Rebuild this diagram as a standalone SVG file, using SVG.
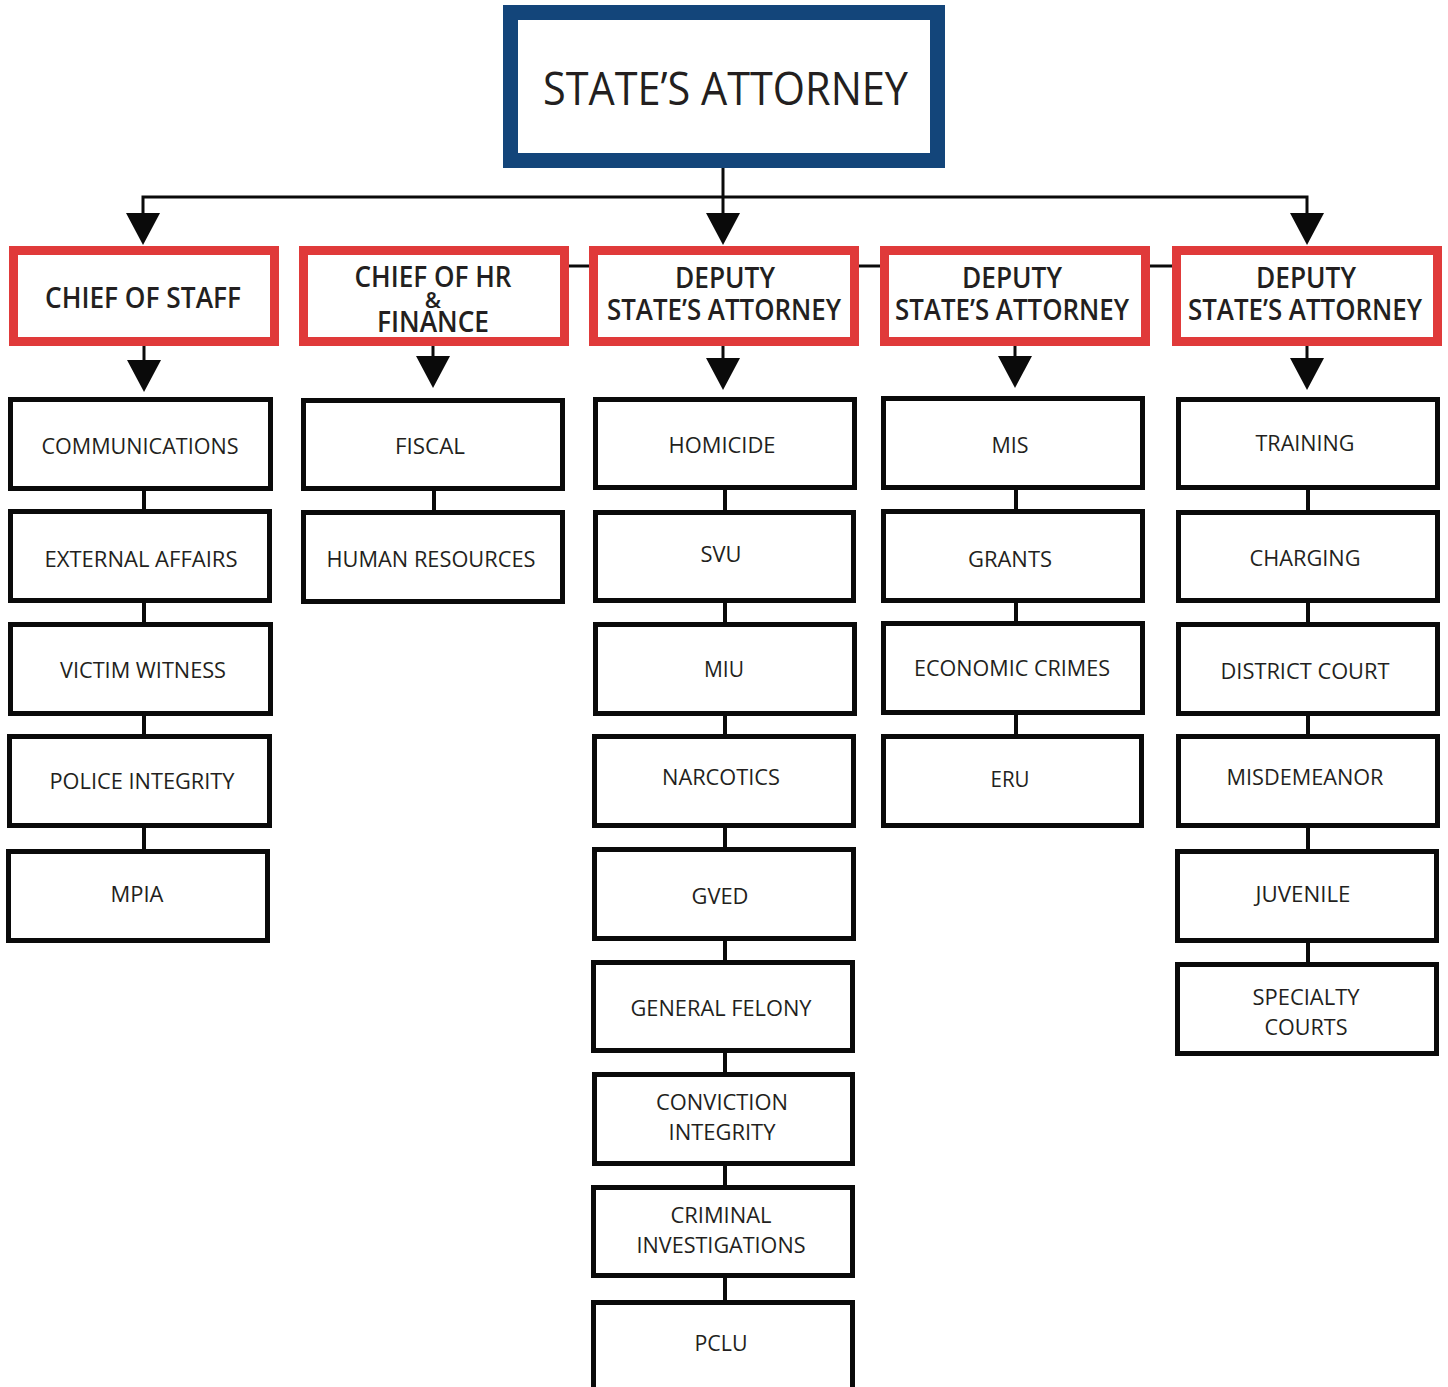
<svg xmlns="http://www.w3.org/2000/svg" width="1448" height="1387" viewBox="0 0 1448 1387">
<style>
.top{fill:#fff;stroke:#13457a;stroke-width:15}
.red{fill:#fff;stroke:#e03a3a;stroke-width:9}
.sub{fill:#fff;stroke:#0a0a0a;stroke-width:5}
.ln{stroke:#0a0a0a;stroke-width:3;fill:none}
.sl{stroke:#0a0a0a;stroke-width:4;fill:none}
.ah{fill:#0a0a0a}
text{font-family:"Open Sans","Liberation Sans",sans-serif;fill:#231f20;text-anchor:middle}
.t0{font-size:46px;font-weight:500}
.t1{font-size:29px;font-weight:600}
.t2{font-size:22px}
.amp{font-size:22px;font-weight:600}
</style>
<rect width="1448" height="1387" fill="#fff"/>
<g id="connectors">
<line class="ln" x1="723" y1="160" x2="723" y2="215"/>
<polyline class="ln" points="143,215 143,197 1307,197 1307,215"/>
<polygon class="ah" points="126,213 160,213 143,245"/>
<polygon class="ah" points="706,213 740,213 723,245"/>
<polygon class="ah" points="1290,213 1324,213 1307,245"/>
<line class="ln" x1="569" y1="266" x2="589" y2="266"/>
<line class="ln" x1="859" y1="266" x2="880" y2="266"/>
<line class="ln" x1="1150" y1="266" x2="1172" y2="266"/>
<line class="ln" x1="144" y1="346" x2="144" y2="362"/>
<polygon class="ah" points="127,360 161,360 144,392"/>
<line class="ln" x1="433" y1="346" x2="433" y2="358"/>
<polygon class="ah" points="416,356 450,356 433,388"/>
<line class="ln" x1="723" y1="346" x2="723" y2="360"/>
<polygon class="ah" points="706,358 740,358 723,390"/>
<line class="ln" x1="1015" y1="346" x2="1015" y2="358"/>
<polygon class="ah" points="998,356 1032,356 1015,388"/>
<line class="ln" x1="1307" y1="346" x2="1307" y2="360"/>
<polygon class="ah" points="1290,358 1324,358 1307,390"/>
<path class="sl" d="M144 490V511M144 602V624M144 715V736M144 827V851"/>
<path class="sl" d="M434 490V512"/>
<path class="sl" d="M725 489V512M725 602V624M725 715V736M725 827V849M725 940V962M725 1052V1074M725 1165V1187M725 1277V1302"/>
<path class="sl" d="M1016 489V511M1016 602V623M1016 714V736"/>
<path class="sl" d="M1308 489V512M1308 602V624M1308 715V736M1308 827V851M1308 942V964"/>
</g>
<g id="states-attorney">
<rect class="top" x="510.5" y="12.5" width="427" height="148"/>
<text class="t0" x="725.5" y="105" textLength="365" lengthAdjust="spacingAndGlyphs">STATE’S ATTORNEY</text>
</g>
<g id="chief-of-staff">
<rect class="red" x="13.5" y="250.5" width="261" height="91"/>
<text class="t1" x="143" y="308" textLength="196" lengthAdjust="spacingAndGlyphs">CHIEF OF STAFF</text>
</g>
<g id="chief-of-hr">
<rect class="red" x="303.5" y="250.5" width="261" height="91"/>
<text class="t1" x="433" y="287" textLength="157" lengthAdjust="spacingAndGlyphs">CHIEF OF HR</text>
<text class="amp" x="433" y="308">&amp;</text>
<text class="t1" x="433" y="332" textLength="112" lengthAdjust="spacingAndGlyphs">FINANCE</text>
</g>
<g id="deputy-1">
<rect class="red" x="593.5" y="250.5" width="261" height="91"/>
<text class="t1" x="725" y="288" textLength="100" lengthAdjust="spacingAndGlyphs">DEPUTY</text>
<text class="t1" x="724" y="320" textLength="234" lengthAdjust="spacingAndGlyphs">STATE’S ATTORNEY</text>
</g>
<g id="deputy-2">
<rect class="red" x="884.5" y="250.5" width="261" height="91"/>
<text class="t1" x="1012" y="288" textLength="100" lengthAdjust="spacingAndGlyphs">DEPUTY</text>
<text class="t1" x="1012" y="320" textLength="234" lengthAdjust="spacingAndGlyphs">STATE’S ATTORNEY</text>
</g>
<g id="deputy-3">
<rect class="red" x="1176.5" y="250.5" width="261" height="91"/>
<text class="t1" x="1306" y="288" textLength="100" lengthAdjust="spacingAndGlyphs">DEPUTY</text>
<text class="t1" x="1305" y="320" textLength="234" lengthAdjust="spacingAndGlyphs">STATE’S ATTORNEY</text>
</g>
<g id="communications"><rect class="sub" x="10.5" y="399.5" width="260" height="89"/><text class="t2" x="140" y="454" textLength="197" lengthAdjust="spacingAndGlyphs">COMMUNICATIONS</text></g>
<g id="external-affairs"><rect class="sub" x="10.5" y="511.5" width="259" height="89"/><text class="t2" x="141" y="567" textLength="193" lengthAdjust="spacingAndGlyphs">EXTERNAL AFFAIRS</text></g>
<g id="victim-witness"><rect class="sub" x="10.5" y="624.5" width="260" height="89"/><text class="t2" x="143" y="678" textLength="166" lengthAdjust="spacingAndGlyphs">VICTIM WITNESS</text></g>
<g id="police-integrity"><rect class="sub" x="9.5" y="736.5" width="260" height="89"/><text class="t2" x="142" y="789" textLength="185" lengthAdjust="spacingAndGlyphs">POLICE INTEGRITY</text></g>
<g id="mpia"><rect class="sub" x="8.5" y="851.5" width="259" height="89"/><text class="t2" x="137" y="902" textLength="53" lengthAdjust="spacingAndGlyphs">MPIA</text></g>
<g id="fiscal"><rect class="sub" x="303.5" y="400.5" width="259" height="88"/><text class="t2" x="430" y="454" textLength="70" lengthAdjust="spacingAndGlyphs">FISCAL</text></g>
<g id="human-resources"><rect class="sub" x="303.5" y="512.5" width="259" height="89"/><text class="t2" x="431" y="567" textLength="209" lengthAdjust="spacingAndGlyphs">HUMAN RESOURCES</text></g>
<g id="homicide"><rect class="sub" x="595.5" y="399.5" width="259" height="88"/><text class="t2" x="722" y="453" textLength="107" lengthAdjust="spacingAndGlyphs">HOMICIDE</text></g>
<g id="svu"><rect class="sub" x="595.5" y="512.5" width="258" height="88"/><text class="t2" x="721" y="562" textLength="41" lengthAdjust="spacingAndGlyphs">SVU</text></g>
<g id="miu"><rect class="sub" x="595.5" y="624.5" width="259" height="89"/><text class="t2" x="724" y="677" textLength="40" lengthAdjust="spacingAndGlyphs">MIU</text></g>
<g id="narcotics"><rect class="sub" x="594.5" y="736.5" width="259" height="89"/><text class="t2" x="721" y="785" textLength="118" lengthAdjust="spacingAndGlyphs">NARCOTICS</text></g>
<g id="gved"><rect class="sub" x="594.5" y="849.5" width="259" height="89"/><text class="t2" x="720" y="904" textLength="57" lengthAdjust="spacingAndGlyphs">GVED</text></g>
<g id="general-felony"><rect class="sub" x="593.5" y="962.5" width="259" height="88"/><text class="t2" x="721" y="1016" textLength="181" lengthAdjust="spacingAndGlyphs">GENERAL FELONY</text></g>
<g id="conviction-integrity"><rect class="sub" x="594.5" y="1074.5" width="258" height="89"/><text class="t2" x="722" y="1110" textLength="132" lengthAdjust="spacingAndGlyphs">CONVICTION</text><text class="t2" x="722" y="1140" textLength="107" lengthAdjust="spacingAndGlyphs">INTEGRITY</text></g>
<g id="criminal-investigations"><rect class="sub" x="593.5" y="1187.5" width="259" height="88"/><text class="t2" x="721" y="1223" textLength="101" lengthAdjust="spacingAndGlyphs">CRIMINAL</text><text class="t2" x="721" y="1253" textLength="169" lengthAdjust="spacingAndGlyphs">INVESTIGATIONS</text></g>
<g id="pclu"><rect class="sub" x="593.5" y="1302.5" width="259" height="120"/><text class="t2" x="721" y="1351" textLength="53" lengthAdjust="spacingAndGlyphs">PCLU</text></g>
<g id="mis"><rect class="sub" x="883.5" y="398.5" width="259" height="89"/><text class="t2" x="1010" y="453" textLength="37" lengthAdjust="spacingAndGlyphs">MIS</text></g>
<g id="grants"><rect class="sub" x="883.5" y="511.5" width="259" height="89"/><text class="t2" x="1010" y="567" textLength="84" lengthAdjust="spacingAndGlyphs">GRANTS</text></g>
<g id="economic-crimes"><rect class="sub" x="883.5" y="623.5" width="259" height="89"/><text class="t2" x="1012" y="676" textLength="196" lengthAdjust="spacingAndGlyphs">ECONOMIC CRIMES</text></g>
<g id="eru"><rect class="sub" x="883.5" y="736.5" width="258" height="89"/><text class="t2" x="1010" y="787" textLength="39" lengthAdjust="spacingAndGlyphs">ERU</text></g>
<g id="training"><rect class="sub" x="1178.5" y="399.5" width="259" height="88"/><text class="t2" x="1305" y="451" textLength="99" lengthAdjust="spacingAndGlyphs">TRAINING</text></g>
<g id="charging"><rect class="sub" x="1178.5" y="512.5" width="259" height="88"/><text class="t2" x="1305" y="566" textLength="111" lengthAdjust="spacingAndGlyphs">CHARGING</text></g>
<g id="district-court"><rect class="sub" x="1178.5" y="624.5" width="259" height="89"/><text class="t2" x="1305" y="679" textLength="169" lengthAdjust="spacingAndGlyphs">DISTRICT COURT</text></g>
<g id="misdemeanor"><rect class="sub" x="1178.5" y="736.5" width="259" height="89"/><text class="t2" x="1305" y="785" textLength="157" lengthAdjust="spacingAndGlyphs">MISDEMEANOR</text></g>
<g id="juvenile"><rect class="sub" x="1177.5" y="851.5" width="259" height="89"/><text class="t2" x="1303" y="902" textLength="95" lengthAdjust="spacingAndGlyphs">JUVENILE</text></g>
<g id="specialty-courts"><rect class="sub" x="1177.5" y="964.5" width="259" height="89"/><text class="t2" x="1306" y="1005" textLength="107" lengthAdjust="spacingAndGlyphs">SPECIALTY</text><text class="t2" x="1306" y="1035" textLength="83" lengthAdjust="spacingAndGlyphs">COURTS</text></g>
</svg>
